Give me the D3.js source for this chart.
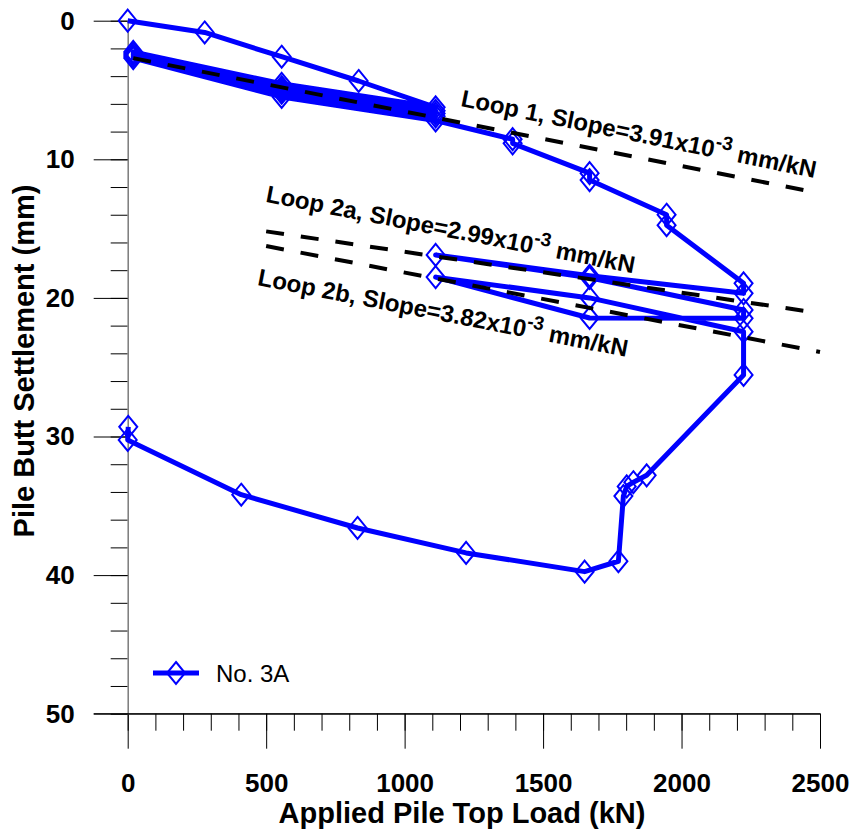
<!DOCTYPE html>
<html>
<head>
<meta charset="utf-8">
<script src="https://cdn.jsdelivr.net/npm/d3@7"></script>
<style>
  body { margin: 0; background: #fff; }
  svg { display: block; font-family: "Liberation Sans", Arial, sans-serif; }
</style>
</head>
<body>
<div id="wrapper"></div>
<script>
// test sequence for pile No. 3A, in loading order
const loads = [0, 278, 556, 834, 1112,
    556, 20, 556, 1112, 556, 20, 556, 1112, 556, 20, 556, 1112, 556, 20, 556, 1112,
    1390, 1390, 1668, 1668, 1946, 1946, 2224, 2224,
    1668, 1112, 1668, 2224, 2224, 1668, 1112, 1668, 2224, 2224,
    1874, 1826, 1802, 1790, 1772, 1650, 1222, 830, 410, 0, 2];
const settlements = [0, 0.85, 2.6, 4.35, 6.25,
    4.55, 2.25, 4.8, 6.5, 4.85, 2.4, 5.0, 6.7, 5.0, 2.55, 5.15, 6.9, 5.2, 2.7, 5.5, 7.2,
    8.55, 8.85, 11.0, 11.5, 14.0, 14.75, 18.95, 19.67,
    18.4, 16.9, 18.55, 20.87, 21.47, 21.45, 18.5, 20.0, 22.44, 25.56,
    32.8, 33.3, 33.6, 34.3, 39.0, 39.75, 38.4, 36.6, 34.2, 30.25, 29.3];
const seriesName = "No. 3A";

// fitted unloading/reloading slopes
const fitNames = ["Loop 1", "Loop 2a", "Loop 2b"];
const fitSlopes = ["3.91", "2.99", "3.82"];
const fitStart = [[20, 2.7], [500, 15.2], [500, 16.26]];
const fitEnd = [[2500, 12.45], [2500, 21.1], [2500, 23.9]];
// label anchor (load, settlement) and angle
const fitLabelAt = [[1200, 6.15], [496, 13.06], [466, 19.07]];
const fitLabelAngle = [11.5, 11, 11];

const xTicks = [0, 500, 1000, 1500, 2000, 2500];
const yTicks = [0, 10, 20, 30, 40, 50];

const blue = "#0000ff";

const dims = {
    width: 856,
    height: 829,
    left: 127.7,
    right: 820,
    top: 20.7,
    bottom: 713.7
};

const svg = d3.select("#wrapper").append("svg")
    .attr("width", dims.width)
    .attr("height", dims.height);

const xScaler = d3.scaleLinear().domain([0, 2500]).range([dims.left, dims.right]);
const yScaler = d3.scaleLinear().domain([0, 50]).range([dims.top, dims.bottom]);

// minor ticks first
svg.append("g")
    .attr("transform", `translate(0,${dims.bottom})`)
    .call(d3.axisBottom(xScaler).tickValues(d3.range(0, 2501, 100)).tickSize(17).tickSizeOuter(0).tickFormat(""))
    .call(g => g.select(".domain").remove())
    .call(g => g.selectAll("line").attr("stroke", "#000"));

svg.append("g")
    .attr("transform", `translate(${dims.left},0)`)
    .call(d3.axisLeft(yScaler).tickValues(d3.range(0, 51, 2)).tickSize(17).tickSizeOuter(0).tickFormat(""))
    .call(g => g.select(".domain").remove())
    .call(g => g.selectAll("line").attr("stroke", "#000"));

const xAxis = svg.append("g")
    .attr("transform", `translate(0,${dims.bottom})`)
    .call(d3.axisBottom(xScaler).tickValues(xTicks).tickFormat(d3.format("d"))
        .tickSize(35).tickPadding(25).tickSizeOuter(0));
xAxis.select(".domain").attr("stroke", "#000");
xAxis.selectAll("line").attr("stroke", "#000");
xAxis.selectAll("text")
    .attr("font-size", 26).attr("font-weight", "bold").attr("fill", "#000")
    .attr("font-family", "Liberation Sans, Arial, sans-serif");

const yAxis = svg.append("g")
    .attr("transform", `translate(${dims.left},0)`)
    .call(d3.axisLeft(yScaler).tickValues(yTicks).tickFormat(d3.format("d"))
        .tickSize(34).tickPadding(19).tickSizeOuter(0));
yAxis.select(".domain").attr("stroke", "#7a7a7a").attr("stroke-width", 1.5);
yAxis.selectAll("line").attr("stroke", "#000");
yAxis.selectAll("text")
    .attr("font-size", 26).attr("font-weight", "bold").attr("fill", "#000")
    .attr("font-family", "Liberation Sans, Arial, sans-serif");

// bottom axis line over the full width incl. the 50 tick
svg.append("line")
    .attr("x1", dims.left - 34).attr("x2", xScaler(2500))
    .attr("y1", yScaler(50)).attr("y2", yScaler(50))
    .attr("stroke", "#000");

svg.append("text")
    .attr("x", 462).attr("y", 823)
    .attr("text-anchor", "middle")
    .attr("font-size", 29).attr("font-weight", "bold")
    .text("Applied Pile Top Load (kN)");

svg.append("text")
    .attr("transform", `translate(34,361) rotate(-90)`)
    .attr("text-anchor", "middle")
    .attr("font-size", 29).attr("font-weight", "bold")
    .text("Pile Butt Settlement (mm)");

// load-settlement curve
const points = loads.map((l, i) => ({ load: l, settlement: settlements[i] }));

const line = d3.line()
    .x(d => xScaler(d.load))
    .y(d => yScaler(d.settlement));

svg.append("path")
    .datum(points)
    .attr("d", line)
    .attr("fill", "none")
    .attr("stroke", blue)
    .attr("stroke-width", 5)
    .attr("stroke-linejoin", "round");

const diamond = "M0,-11L9,0L0,11L-9,0Z";

svg.append("g").selectAll("path")
    .data(points)
    .enter()
    .append("path")
    .attr("d", diamond)
    .attr("transform", d => `translate(${xScaler(d.load)},${yScaler(d.settlement)})`)
    .attr("fill", "none")
    .attr("stroke", blue)
    .attr("stroke-width", 2);

// fitted slope lines
svg.append("g").selectAll("line")
    .data(fitNames)
    .enter()
    .append("line")
    .attr("x1", (d, i) => xScaler(fitStart[i][0]))
    .attr("y1", (d, i) => yScaler(fitStart[i][1]))
    .attr("x2", (d, i) => xScaler(fitEnd[i][0]))
    .attr("y2", (d, i) => yScaler(fitEnd[i][1]))
    .attr("stroke", "#000")
    .attr("stroke-width", 4)
    .attr("stroke-dasharray", "18 17");

const labels = svg.append("g").selectAll("text")
    .data(fitNames)
    .enter()
    .append("text")
    .attr("transform", (d, i) => `translate(${xScaler(fitLabelAt[i][0])},${yScaler(fitLabelAt[i][1])}) rotate(${fitLabelAngle[i]})`)
    .attr("font-size", 24)
    .attr("font-weight", "bold");

labels.append("tspan").text((d, i) => `${d}, Slope=${fitSlopes[i]}x10`);
labels.append("tspan").attr("font-size", 19).attr("dy", -10).text("-3");
labels.append("tspan").attr("dy", 10).text(" mm/kN");

// legend
const legend = svg.append("g").attr("transform", "translate(176,673)");
legend.append("line").attr("x1", -23).attr("x2", 23)
    .attr("stroke", blue).attr("stroke-width", 5);
legend.append("path").attr("d", diamond)
    .attr("fill", "none").attr("stroke", blue).attr("stroke-width", 2);
legend.append("text").attr("x", 40).attr("y", 8.5)
    .attr("font-size", 24)
    .text(seriesName);
</script>
</body>
</html>
